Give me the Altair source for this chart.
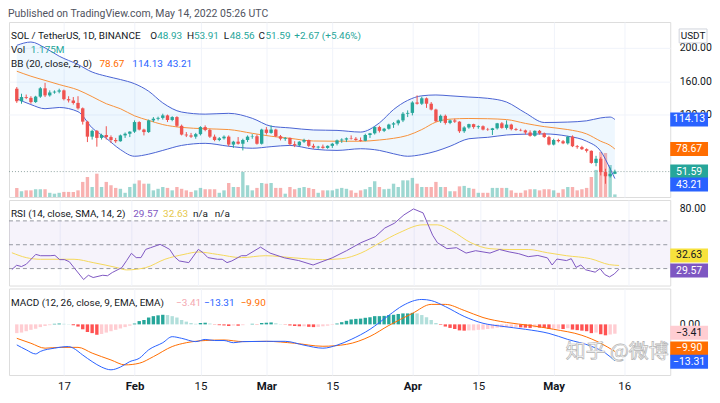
import altair as alt
import pandas as pd
import numpy as np

FONT = "Roboto"
TXT = "#131722"
GRID = "#f0f3fa"
UP = "#26a69a"
DN = "#ef5350"
BLUE = "#2962ff"
ORANGE = "#ff6d00"
PURPLE = "#7e57c2"
YELLOW = "#f5d85a"

# ---- daily candles Jan 7 .. May 14 2022 (index 0 .. 127) ----
opens = [151, 136, 141, 140, 135, 141.5, 151.5, 143, 146.5, 147.5,
         149, 138.5, 137, 134, 127.5, 111.5, 93.5, 100.5, 92, 95.5,
         93, 89.5, 88, 95, 97, 99.5, 111, 102, 99, 113,
         115, 116, 119, 113.5, 117, 106.5, 96, 95, 93.5, 96.5,
         105, 101.5, 93.5, 89.5, 91.5, 93.5, 84, 87.5, 85, 89.5,
         93.5, 94, 85, 102, 98, 102, 94, 91, 92, 84.5,
         83, 87.5, 89.5, 82.5, 80.5, 81.5, 80, 82.5, 85, 89,
         90, 91.5, 91, 89.5, 88.5, 95.5, 97.5, 105, 100.5, 103,
         108, 109.5, 113, 121, 122, 134.5, 133, 139.5, 133, 126,
         112, 118.5, 110, 113, 111.5, 100, 104.5, 108.5, 105, 106,
         102, 101.5, 103.5, 109.5, 104, 108, 102.5, 101.5, 101, 98.5,
         94.5, 100.5, 97.5, 93, 84, 89.5, 88, 85.5, 93.5, 82,
         81, 78.5, 76.5, 62, 67, 51, 46, 48.93]
highs = [153, 145, 144, 142, 142.5, 153, 158, 149, 149, 151,
         150, 142, 141, 142, 128.5, 112.5, 102, 101.5, 97, 106,
         95, 92, 96, 98.5, 100, 113, 112, 103, 114, 117,
         117.5, 121, 120, 118, 118, 108, 99, 98, 98, 106,
         107, 103, 96, 93, 95, 95, 88.5, 93, 91, 95,
         96.5, 96, 103, 105, 107, 103, 95.5, 93, 92.5, 88,
         88, 91, 90, 85, 82.5, 84, 83, 86, 90, 91.5,
         92.5, 95, 93, 92.5, 97, 98, 106, 106.5, 104, 109,
         111, 114, 123, 125, 136, 143, 141.5, 140.5, 135, 127,
         120, 120, 114, 115, 112, 106, 109, 109, 107, 107,
         104, 104, 110, 111, 113, 109, 104, 103, 102, 101,
         101, 101.5, 98.5, 94.5, 91, 91, 89.5, 94.5, 95, 83.5,
         82.5, 79.5, 77, 70.5, 69, 55, 56.5, 53.91]
lows = [134, 133, 138.5, 133, 134, 140, 141, 141.5, 145, 145.5,
        137, 134.5, 132, 126, 108, 87, 90, 81.5, 90, 90,
        86, 86, 87.5, 92, 93, 98, 101, 95, 98, 111,
        113, 114, 111, 112, 105, 95, 93, 92, 91, 95,
        100, 92, 88, 88, 90, 82, 80, 84, 77, 87,
        91, 84, 84, 96, 97, 93, 89, 88.5, 83, 81,
        82, 86, 81, 79, 79, 79, 79, 80, 83, 86,
        87, 90, 88.5, 87.5, 88, 92, 96, 98.5, 99, 102,
        104, 107, 111, 117, 119, 132, 131.5, 128, 125, 111,
        110, 108, 108.5, 110, 98, 98, 103, 103, 103, 101,
        100.5, 95.5, 102, 103, 102, 101, 100.5, 100, 96, 93.5,
        93.5, 96, 92, 83, 83, 86.5, 84.5, 84, 81, 79,
        77.5, 74.5, 61, 58, 47, 37, 44.5, 48.56]
closes = [136, 141, 140, 135, 141.5, 151.5, 143, 146.5, 147.5, 149,
          138.5, 137, 134, 127.5, 111.5, 93.5, 100.5, 92, 95.5, 93,
          89.5, 88, 95, 97, 99.5, 111, 102, 99, 113, 115,
          116, 119, 113.5, 117, 106.5, 96, 95, 93.5, 96.5, 105,
          101.5, 93.5, 89.5, 91.5, 93.5, 84, 87.5, 85, 89.5, 93.5,
          94, 85, 102, 98, 102, 94, 91, 92, 84.5, 83,
          87.5, 89.5, 82.5, 80.5, 81.5, 80, 82.5, 85, 89, 90,
          91.5, 91, 89.5, 88.5, 95.5, 97.5, 105, 100.5, 103, 108,
          109.5, 113, 121, 122, 134.5, 133, 139.5, 133, 126, 112,
          118.5, 110, 113, 111.5, 100, 104.5, 108.5, 105, 106, 102,
          101.5, 103.5, 109.5, 104, 108, 102.5, 101.5, 101, 98.5, 94.5,
          100.5, 97.5, 93, 84, 89.5, 88, 85.5, 93.5, 82, 81,
          78.5, 76.5, 62, 67, 51, 46, 48.92, 51.59]
volumes = [4.05, 2.6, 3.0, 3.0, 3.5, 3.5, 3.5, 1.9, 1.5, 1.9,
           2.3, 2.3, 2.3, 3.0, 6.8, 9.0, 4.5, 10.5, 4.5, 6.8,
           5.3, 4.1, 3.7, 1.9, 4.5, 6.0, 7.5, 6.0, 6.0, 3.0,
           3.7, 4.5, 4.1, 3.0, 4.5, 3.7, 3.0, 2.3, 3.0, 4.1,
           3.5, 3.5, 3.5, 1.9, 3.0, 6.3, 4.5, 4.5, 11.3, 5.3,
           3.0, 4.1, 6.3, 6.0, 6.3, 4.1, 4.1, 1.5, 4.5, 3.5,
           4.1, 4.5, 4.1, 3.6, 1.9, 3.0, 3.0, 3.0, 3.7, 4.1,
           3.7, 3.0, 1.9, 3.0, 3.5, 4.5, 7.1, 4.5, 3.5, 3.7,
           6.0, 4.5, 7.5, 7.5, 8.6, 6.0, 4.5, 4.5, 4.5, 6.8,
           4.5, 4.5, 2.6, 2.6, 4.8, 5.0, 4.1, 3.7, 1.9, 1.9,
           1.9, 4.1, 4.1, 4.1, 4.1, 3.0, 1.9, 1.9, 3.0, 3.5,
           3.5, 3.0, 3.5, 3.5, 3.0, 1.9, 3.5, 4.5, 4.5, 3.0,
           3.5, 4.1, 9.0, 12.2, 20.3, 19.8, 14.4, 1.175]

# ---- Bollinger Bands (20, 2) read at sample bars ----
bb_idx = [0, 3, 6, 9, 13, 16, 19, 22, 25, 28, 31, 35, 40, 45, 50, 54, 58, 63, 68, 73,
          77, 80, 83, 86, 89, 92, 96, 100, 104, 108, 112, 117, 121, 124, 126, 127]
bb_upper = [203, 207, 200, 190, 180, 171, 166, 162, 157, 148, 134, 123, 120.5, 121.5, 115.5, 106, 104, 101.5, 101, 99,
            110, 126, 137, 142.5, 143.5, 142.5, 141, 139.5, 135, 122, 110.5, 111, 112.5, 116, 117, 114.13]
bb_basis = [172, 166, 161, 156, 149.5, 141.5, 133, 127, 118.5, 113, 108, 104.6, 103, 102, 97.5, 94, 91.5, 88.3, 88, 88,
            89.5, 91.5, 95, 102, 111, 114.5, 115.3, 115, 114, 109.4, 105.5, 102, 96.8, 88, 83, 78.67]
bb_lower = [139, 132, 127, 128.5, 123.5, 104, 91.5, 78, 70, 72.5, 77, 83, 85.5, 82, 79.6, 81.5, 83, 78.5, 77, 79,
            77, 73, 70, 72, 76, 82, 91, 92.7, 95.5, 96.5, 96.8, 94, 88, 76, 55, 43.21]

# ---- RSI (14) and its SMA (14) ----
rsi_idx = [0, 1, 2, 3, 5, 6, 8, 9, 10, 11, 12, 13, 15, 16, 17, 19, 20, 21, 23, 24,
           25, 26, 27, 28, 29, 31, 32, 33, 34, 35, 37, 39, 40, 41, 43, 44, 45, 46, 48, 49,
           52, 54, 57, 60, 63, 67, 70, 73, 76, 78, 80, 82, 84, 86, 88, 89, 91, 93, 95, 97,
           100, 102, 104, 106, 108, 110, 112, 113, 114, 116, 117, 118, 119, 120, 121, 122, 123, 124, 125, 126, 127]
rsi_vals = [29.2, 32.8, 31.7, 33.6, 41.9, 40.8, 40.8, 41.1, 37.5, 37.5, 35.8, 30.8, 20.8, 24.4, 22.5, 24.4, 24, 26.7, 30.8, 36.7,
            42.8, 39.2, 39.2, 46.1, 47.5, 50.3, 48.3, 46.1, 40, 36.4, 35, 46.1, 43.3, 39.2, 37.8, 37.8, 35, 36.4, 40.8, 40.8,
            48, 43, 39, 36.7, 33, 39, 45, 51.7, 56.7, 64, 68, 75, 80, 76.7, 58, 51.7, 46.7, 47.5, 43, 45,
            43, 46, 44, 42.5, 40, 41, 39, 33, 38, 36.7, 38.3, 31, 33, 29, 28, 27, 30, 25, 23, 25.5, 29.57]
rsi_ma_idx = [0, 3, 6, 13, 17, 22, 24, 28, 32, 36, 39, 43, 48, 53, 59, 65, 69, 73, 77, 81,
              86, 89, 92, 96, 100, 104, 108, 112, 116, 121, 125, 127]
rsi_ma_vals = [43.3, 39.2, 37.8, 37.8, 35, 30.8, 28.9, 30.8, 37.8, 41.9, 43.9, 41.9, 39.2, 40.8, 39, 37.5, 38.3, 43, 51.7, 60,
               66.7, 66.7, 61.7, 51.7, 46.7, 46, 46, 43.3, 40.8, 38.3, 33.3, 32.63]
rsi_levels = [70, 50, 30]

# ---- MACD (12, 26, 9) ----
macd_idx = [0, 2, 4, 5, 8, 11, 12, 14, 16, 18, 20, 22, 24, 26, 28, 31, 33, 35, 38, 40,
            42, 44, 46, 48, 53, 57, 61, 65, 68, 71, 75, 79, 82, 86, 88, 91, 95, 99, 103, 108,
            113, 117, 122, 125, 127]
macd_vals = [-7.5, -9.3, -10.8, -9.9, -8.7, -8.1, -8.7, -11.2, -13.6, -15.6, -16.6, -15.6, -13.6, -12.4, -9.3, -6.7, -4.5, -5.1, -6.3, -5.5,
             -5.9, -5.9, -6.7, -6.3, -6.2, -6.2, -7.6, -8.7, -7.6, -5.5, -1.8, 3.3, 6.9, 9.1, 8.7, 6.5, 2.9, 0.4, -0.7, -1.8,
             -3.3, -5.5, -8, -10.5, -13.31]
signal_idx = [0, 3, 6, 9, 13, 16, 20, 23, 26, 29, 33, 36, 40, 44, 48, 53, 59, 65, 70, 75,
              79, 84, 88, 91, 95, 99, 104, 109, 114, 120, 124, 127]
signal_vals = [-5.1, -6.9, -8.7, -8.4, -8.4, -10.5, -13, -14.8, -14.2, -11.8, -8.1, -6.7, -5.9, -5.7, -6.3, -6.2, -6.9, -8, -7.3, -4.4,
               -0.4, 4, 7.3, 7.3, 5.1, 2.5, 0.7, -0.4, -1.8, -4, -6.9, -9.9]
hist_vals = [-3.2, -3.0, -2.5, -2.0, -1.6, -1.0, -0.6, -0.3, 0.2, 0.3,
             0.2, 0.1, -0.3, -0.8, -1.8, -2.8, -3.2, -3.8, -3.5, -3.0,
             -2.5, -2.0, -1.5, -1.0, -0.5, 0.3, 1.2, 1.6, 2.5, 3.0,
             3.3, 3.5, 3.4, 3.0, 2.5, 1.6, 1.0, 0.5, 0.2, 0.5,
             0.6, 0.3, -0.1, -0.3, -0.4, -0.6, -0.4, -0.5, -0.3, 0.0,
             0.2, -0.1, 0.5, 0.6, 0.7, 0.4, 0.1, -0.1, -0.4, -0.6,
             -0.7, -0.7, -0.9, -1.0, -0.9, -0.7, -0.5, -0.2, 0.3, 0.8,
             1.3, 1.8, 2.0, 2.1, 2.4, 2.6, 3.0, 3.0, 3.1, 3.4,
             3.5, 3.8, 4.0, 4.0, 4.2, 4.0, 3.4, 2.6, 1.6, 0.5,
             -0.2, -0.8, -1.3, -1.7, -2.2, -2.3, -2.2, -2.2, -2.0, -1.9,
             -1.7, -1.5, -1.2, -1.1, -1.0, -1.0, -1.0, -1.1, -1.2, -1.3,
             -1.1, -1.2, -1.3, -1.7, -1.6, -1.6, -1.7, -1.4, -1.9, -2.1,
             -2.3, -2.5, -3.2, -3.0, -3.6, -4.0, -3.7, -3.41]

tick_idx = [10, 25, 39, 53, 67, 84, 98, 114, 129]
tick_labels = ["17", "Feb", "15", "Mar", "15", "Apr", "15", "May", "16"]
price_ticks = [120, 160, 200]
rsi_ticks = [80]
macd_ticks = [0]

# ---------------- tables ----------------
n = len(closes)
cdf = pd.DataFrame({"i": list(range(n)), "o": opens, "h": highs, "l": lows, "c": closes, "v": volumes})
cdf["dir"] = np.where(cdf["c"] >= cdf["o"], "up", "down")
bbdf = pd.DataFrame({"i": bb_idx, "u": bb_upper, "m": bb_basis, "lo": bb_lower})
rsidf = pd.DataFrame({"i": rsi_idx, "r": rsi_vals})
rsimadf = pd.DataFrame({"i": rsi_ma_idx, "r": rsi_ma_vals})
macddf = pd.DataFrame({"i": macd_idx, "m": macd_vals})
sigdf = pd.DataFrame({"i": signal_idx, "s": signal_vals})
hdf = pd.DataFrame({"i": list(range(len(hist_vals))), "h": hist_vals})
prev = hdf["h"].shift(1).fillna(hdf["h"])
hdf["cat"] = np.where(hdf["h"] >= 0, np.where(hdf["h"] >= prev, "pg", "pf"),
                      np.where(hdf["h"] < prev, "nf", "nr"))

W = 665
HM, HR, HD = 176, 86, 87
BW = 38  # value-box width
XS = alt.Scale(domain=[-0.6, 137.7], nice=False, zero=False)
YS = alt.Scale(domain=[21.1, 231.0], nice=False, zero=False)
RS = alt.Scale(domain=[15.8, 87.5], nice=False, zero=False)
MS = alt.Scale(domain=[-18.5, 13.1], nice=False, zero=False)

label_expr = " : ".join(f"datum.value == {v} ? '{t}'" for v, t in zip(tick_idx, tick_labels)) + " : ''"
bold_test = " || ".join(f"datum.value == {v}" for v, t in zip(tick_idx, tick_labels) if not t.isdigit())

x_hidden = alt.Axis(values=tick_idx, labels=False, ticks=False, domain=False, grid=True,
                    gridColor=GRID, title=None)
x_bottom = alt.Axis(values=tick_idx, labelExpr=label_expr, ticks=False, domain=False, grid=True,
                    gridColor=GRID, title=None, labelPadding=6, labelFontSize=11.5, labelColor=TXT,
                    labelFont=FONT, labelOverlap=False, labelFlush=False,
                    labelFontWeight={"condition": {"test": bold_test, "value": "bold"}, "value": "normal"})


def yaxis(values, grid=True):
    return alt.Axis(orient="right", values=values, format=".2f", ticks=False, domain=False, grid=grid,
                    gridColor=GRID, labelPadding=9, labelFontSize=10.5, labelColor=TXT, labelFont=FONT,
                    title=None)


main_axis = yaxis(price_ticks)
rsi_axis = yaxis(rsi_ticks, grid=False)
macd_axis = yaxis(macd_ticks, grid=False)

DIR = alt.Color("dir:N", scale=alt.Scale(domain=["up", "down"], range=[UP, DN]), legend=None)


def X(ax):
    return alt.X("i:Q", scale=XS, axis=ax)


def txt(text, x, y, color, size=10, weight="normal", **kw):
    return alt.Chart(pd.DataFrame({"t": [text]})).mark_text(
        align="left", baseline="middle", font=FONT, fontSize=size, color=color, fontWeight=weight, **kw
    ).encode(x=alt.value(x), y=alt.value(y), text="t:N")


BOX = "M-1,-0.37L1,-0.37L1,0.37L-1,0.37Z"


def vbox(val, fill, tcolor, scale, axis, field_name, dy=0):
    d = pd.DataFrame({field_name: [val], "t": [f"{val:.2f}".replace("-", "\u2212")]})
    b = alt.Chart(d)
    yenc = alt.Y(f"{field_name}:Q", scale=scale, axis=axis)
    box = b.mark_point(shape=BOX, size=BW * BW, filled=True, color=fill, opacity=1, strokeWidth=0,
                       yOffset=dy).encode(x=alt.value(W + BW / 2), y=yenc)
    lab = b.mark_text(font=FONT, fontSize=10.5, color=tcolor, align="center", baseline="middle",
                      yOffset=dy).encode(x=alt.value(W + BW / 2), y=yenc, text="t:N")
    return [box, lab]


def fmt(v):
    return f"{v:.2f}".replace("-", "\u2212")


# ---------------- main pane ----------------
def ym(f):
    return alt.Y(f"{f}:Q", scale=YS, axis=main_axis)


area = alt.Chart(bbdf).mark_area(color="#2196f3", opacity=0.08).encode(x=X(x_hidden), y=ym("u"), y2=alt.Y2("lo"))
bb_u = alt.Chart(bbdf).mark_line(color="#4a63d3", strokeWidth=1, interpolate="monotone").encode(x=X(x_hidden), y=ym("u"))
bb_l = alt.Chart(bbdf).mark_line(color="#4a63d3", strokeWidth=1, interpolate="monotone").encode(x=X(x_hidden), y=ym("lo"))
bb_m = alt.Chart(bbdf).mark_line(color="#f7913a", strokeWidth=1, interpolate="monotone").encode(x=X(x_hidden), y=ym("m"))
last = alt.Chart(pd.DataFrame({"p": [closes[-1]]})).mark_rule(
    color="#8fa3a1", strokeDash=[1, 2], strokeWidth=1).encode(y=ym("p"), x=alt.value(0), x2=alt.value(W))
wicks = alt.Chart(cdf).mark_rule(strokeWidth=1).encode(x=X(x_hidden), y=ym("l"), y2=alt.Y2("h"), color=DIR)
bodies = alt.Chart(cdf).mark_bar(size=3.4).encode(x=X(x_hidden), y=ym("o"), y2=alt.Y2("c"), color=DIR)

chg = closes[-1] - closes[-2]
pct = chg / closes[-2] * 100
hdr = [
    txt("SOL / TetherUS, 1D, BINANCE", 2, 14, TXT),
    txt("O", 142, 14, TXT), txt(f"{opens[-1]:.2f}", 149, 14, UP),
    txt("H", 179, 14, TXT), txt(f"{highs[-1]:.2f}", 186, 14, UP),
    txt("L", 216, 14, TXT), txt(f"{lows[-1]:.2f}", 222, 14, UP),
    txt("C", 251, 14, TXT), txt(f"{closes[-1]:.2f}", 258, 14, UP),
    txt(f"+{chg:.2f} (+{pct:.2f}%)", 287, 14, UP),
    txt("Vol", 2, 28, TXT), txt(f"{volumes[-1]:.3f}M", 22, 28, UP),
    txt("BB (20, close, 2, 0)", 2, 42, TXT),
    txt(f"{bb_basis[-1]:.2f}", 91, 42, ORANGE), txt(f"{bb_upper[-1]:.2f}", 124, 42, BLUE),
    txt(f"{bb_lower[-1]:.2f}", 159, 42, BLUE),
]
usdt_box = alt.Chart(pd.DataFrame({"t": ["USDT"]})).mark_point(
    shape="M-1,-0.5L1,-0.5L1,0.5L-1,0.5Z", size=28 * 28, filled=False, color="#d1d4dc", strokeWidth=1, opacity=1
).encode(x=alt.value(W + 23), y=alt.value(14))
usdt_txt = alt.Chart(pd.DataFrame({"t": ["USDT"]})).mark_text(
    font=FONT, fontSize=10, color=TXT, align="center", baseline="middle").encode(
    x=alt.value(W + 23), y=alt.value(14), text="t:N")

boxes = (vbox(bb_upper[-1], BLUE, "white", YS, main_axis, "p")
         + vbox(bb_basis[-1], ORANGE, "white", YS, main_axis, "p")
         + vbox(closes[-1], UP, "white", YS, main_axis, "p")
         + vbox(bb_lower[-1], BLUE, "white", YS, main_axis, "p", dy=6))

vol = alt.Chart(cdf).mark_bar(size=3.4, opacity=0.45).encode(
    x=X(x_hidden), y=alt.Y("v:Q", scale=alt.Scale(domain=[0, 78.75], nice=False), axis=None), color=DIR)

inner = alt.layer(area, bb_u, bb_l, bb_m, last, wicks, bodies, *boxes, usdt_box, usdt_txt, *hdr)
main = alt.layer(vol, inner).resolve_scale(y="independent").properties(width=W, height=HM)


# ---------------- RSI pane ----------------
def yr(f):
    return alt.Y(f"{f}:Q", scale=RS, axis=rsi_axis)


band = alt.Chart(pd.DataFrame({"a": [rsi_levels[0]], "b": [rsi_levels[-1]]})).mark_rect(
    color=PURPLE, opacity=0.07).encode(x=alt.value(0), x2=alt.value(W), y=yr("a"), y2=alt.Y2("b"))
lvls = alt.Chart(pd.DataFrame({"a": rsi_levels})).mark_rule(
    color="#9598a1", strokeDash=[4, 3], strokeWidth=1).encode(x=alt.value(0), x2=alt.value(W), y=yr("a"))
rsi_ma = alt.Chart(rsimadf).mark_line(color=YELLOW, strokeWidth=1, interpolate="monotone").encode(x=X(x_hidden), y=yr("r"))
rsi_l = alt.Chart(rsidf).mark_line(color=PURPLE, strokeWidth=1).encode(x=X(x_hidden), y=yr("r"))
rsi_txt = [
    txt("RSI (14, close, SMA, 14, 2)", 2, 14, TXT),
    txt(f"{rsi_vals[-1]:.2f}", 125, 14, PURPLE), txt(f"{rsi_ma_vals[-1]:.2f}", 155, 14, "#e6c84a"),
    txt("n/a", 185, 14, TXT), txt("n/a", 207, 14, TXT),
]
rboxes = (vbox(rsi_ma_vals[-1], "#f7e23c", TXT, RS, rsi_axis, "a", dy=-10)
          + vbox(rsi_vals[-1], PURPLE, "white", RS, rsi_axis, "a", dy=1.5))
rsi = alt.layer(band, lvls, rsi_ma, rsi_l, *rboxes, *rsi_txt).properties(width=W, height=HR)


# ---------------- MACD pane ----------------
def yd(f):
    return alt.Y(f"{f}:Q", scale=MS, axis=macd_axis)


HC = alt.Color("cat:N", scale=alt.Scale(domain=["pg", "pf", "nr", "nf"],
                                        range=["#26a69a", "#b2dfdb", "#ffcdd2", "#ff5252"]), legend=None)
hist = alt.Chart(hdf).mark_bar(size=3.4).encode(x=X(x_bottom), y=yd("h"), color=HC)
sig_l = alt.Chart(sigdf).mark_line(color=ORANGE, strokeWidth=1, interpolate="monotone").encode(x=X(x_bottom), y=yd("s"))
macd_l = alt.Chart(macddf).mark_line(color=BLUE, strokeWidth=1, interpolate="monotone").encode(x=X(x_bottom), y=yd("m"))
macd_txt = [
    txt("MACD (12, 26, close, 9, EMA, EMA)", 2, 15, TXT),
    txt(fmt(hist_vals[-1]), 168, 15, "#f4a7b0"),
    txt(fmt(macd_vals[-1]), 196, 15, BLUE),
    txt(fmt(signal_vals[-1]), 233, 15, ORANGE),
]
mboxes = (vbox(hist_vals[-1], "#ffcdd2", TXT, MS, macd_axis, "h", dy=-1)
          + vbox(signal_vals[-1], ORANGE, "white", MS, macd_axis, "h", dy=-3)
          + vbox(macd_vals[-1], BLUE, "white", MS, macd_axis, "h", dy=1))
wm = alt.Chart(pd.DataFrame({"t": ["知乎 @微博"]})).mark_text(
    font="Noto Sans CJK SC", fontSize=20, color="white", stroke="#b4b4b4", strokeWidth=0.7,
    align="left", baseline="middle").encode(x=alt.value(560), y=alt.value(64), text="t:N")
macd = alt.layer(hist, sig_l, macd_l, *mboxes, *macd_txt, wm).properties(width=W, height=HD)

chart = alt.vconcat(main, rsi, macd, spacing=1).resolve_scale(
    x="independent", y="independent", color="independent"
).properties(
    title=alt.TitleParams("Published on TradingView.com, May 14, 2022 05:26 UTC", anchor="start",
                          fontSize=10.5, font=FONT, color="#50535e", fontWeight="normal", offset=2),
    padding=0,
).configure_view(stroke="#e0e3eb").configure(background="white")

chart.save("out.html", embed_options={"renderer": "svg", "actions": False})
